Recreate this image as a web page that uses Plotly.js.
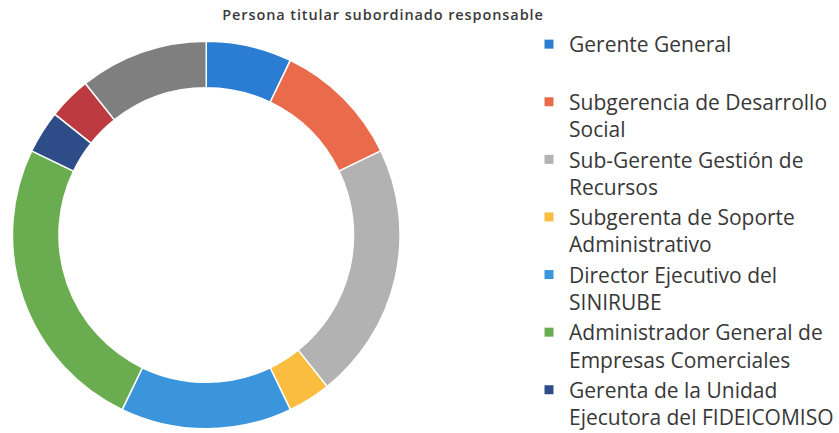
<!DOCTYPE html>
<html>
<head>
<meta charset="utf-8">
<script src="https://cdn.plot.ly/plotly-3.0.1.min.js"></script>
<style>
html,body{margin:0;padding:0;background:#fff;overflow:hidden;}
#chart{width:839px;height:446px;}
#chart .gtitle{letter-spacing:0.9px;}
</style>
</head>
<body>
<div id="chart"></div>
<script>
// Slices (clockwise from 12 o'clock)
var sliceLabels = [
  "Gerente General",
  "Subgerencia de Desarrollo Social",
  "Sub-Gerente Gestión de Recursos",
  "Subgerenta de Soporte Administrativo",
  "Director Ejecutivo del SINIRUBE",
  "Administrador General de Empresas Comerciales",
  "Gerenta de la Unidad Ejecutora del FIDEICOMISO",
  "Otro (8)",
  "Otro (9)"
];
var sliceValues = [2, 3, 6, 1, 4, 7, 1, 1, 3];
var sliceColors = ["#2a7dd2", "#ea6b4b", "#b2b2b2", "#fbbd40", "#3a95dc", "#6aad50", "#2e4c88", "#bc3a40", "#7f7f7f"];

// Legend entries shown in the reference (wrapped as in the original)
var legendLabels = [
  "Gerente General<br> ",
  "Subgerencia de Desarrollo<br>Social",
  "Sub-Gerente Gestión de<br>Recursos",
  "Subgerenta de Soporte<br>Administrativo",
  "Director Ejecutivo del<br>SINIRUBE",
  "Administrador General de<br>Empresas Comerciales",
  "Gerenta de la Unidad<br>Ejecutora del FIDEICOMISO"
];

var W = 839, H = 446;   // plot is slightly taller than the 433px window (bottom is cropped)
var cx = 207, cy = 235, R = 194.5;

var traces = [{
  type: "pie",
  labels: sliceLabels,
  values: sliceValues,
  marker: {colors: sliceColors, line: {color: "#ffffff", width: 1.5}},
  hole: 0.76,
  sort: false,
  direction: "clockwise",
  rotation: 0,
  textinfo: "none",
  hoverinfo: "label+value+percent",
  showlegend: false,
  domain: {x: [(cx - R) / W, (cx + R) / W], y: [(H - cy - R) / H, (H - cy + R) / H]}
}];

for (var i = 0; i < legendLabels.length; i++) {
  traces.push({
    type: "scatter",
    mode: "markers",
    x: [null], y: [null],
    name: legendLabels[i],
    marker: {symbol: "square", size: 9, color: sliceColors[i]},
    showlegend: true,
    hoverinfo: "skip"
  });
}

var layout = {
  width: W, height: H,
  margin: {l: 0, r: 0, t: 0, b: 0},
  paper_bgcolor: "#ffffff",
  plot_bgcolor: "rgba(0,0,0,0)",
  title: {
    text: "Persona titular subordinado responsable",
    x: 383 / W, xanchor: "center",
    y: 1 - 15 / H, yanchor: "middle",
    font: {family: "'Open Sans', sans-serif", size: 14.5, color: "#3a3a3a", weight: 600}
  },
  xaxis: {visible: false, domain: [0.55, 0.56]},
  yaxis: {visible: false, domain: [0.0, 0.01]},
  showlegend: true,
  legend: {
    x: 531 / W, xanchor: "left",
    y: 1 - 24 / H, yanchor: "top",
    valign: "top",
    bgcolor: "rgba(0,0,0,0)",
    font: {family: "'Open Sans', sans-serif", size: 21, color: "#383838"},
    itemwidth: 30,
    tracegroupgap: 0
  }
};

Plotly.newPlot("chart", traces, layout, {displayModeBar: false, staticPlot: true});
</script>
</body>
</html>
